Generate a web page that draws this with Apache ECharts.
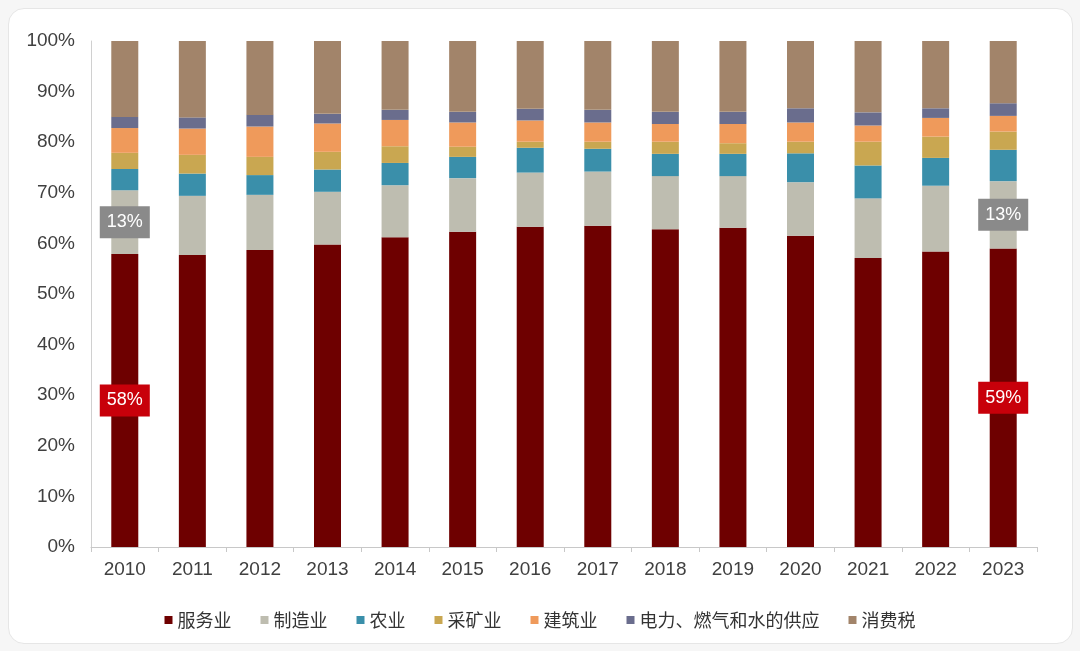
<!DOCTYPE html>
<html>
<head>
<meta charset="utf-8">
<script src="https://cdn.jsdelivr.net/npm/echarts@6/dist/echarts.min.js"></script>
<style>
  html, body { margin: 0; padding: 0; background: #f6f6f6; }
  #card { position: absolute; left: 8px; top: 8px; width: 1063px; height: 634px;
          background: #fff; border: 1px solid #e6e6e6; border-radius: 16px; }
  #main { position: absolute; left: 0; top: 0; width: 1080px; height: 651px; }
</style>
</head>
<body>
<div id="card"></div>
<div id="main"></div>
<script>
var years = ['2010', '2011', '2012', '2013', '2014', '2015', '2016', '2017', '2018', '2019', '2020', '2021', '2022', '2023'];
var yTicks = ['0%', '10%', '20%', '30%', '40%', '50%', '60%', '70%', '80%', '90%', '100%'];

var services      = [57.9, 57.7, 58.7, 59.8, 61.2, 62.3, 63.3, 63.5, 62.8, 63.1, 61.5, 57.1, 58.4, 59.0];
var manufacturing = [12.6, 11.7, 10.9, 10.4, 10.3, 10.6, 10.7, 10.7, 10.5, 10.2, 10.6, 11.8, 13.0, 13.3];
var agriculture   = [4.2, 4.4, 3.9, 4.4, 4.4, 4.2, 4.9, 4.5, 4.4, 4.4, 5.7, 6.5, 5.5, 6.2];
var mining        = [3.2, 3.7, 3.6, 3.5, 3.3, 2.0, 1.2, 1.4, 2.4, 2.1, 2.3, 4.7, 4.2, 3.6];
var construction  = [4.9, 5.2, 6.0, 5.6, 5.2, 4.8, 4.2, 3.8, 3.5, 3.8, 3.8, 3.2, 3.7, 3.1];
var utilities     = [2.2, 2.2, 2.3, 1.9, 2.0, 2.1, 2.3, 2.5, 2.4, 2.4, 2.8, 2.6, 1.9, 2.5];
var consumTax     = [15.0, 15.1, 14.6, 14.4, 13.6, 14.0, 13.4, 13.6, 14.0, 14.0, 13.3, 14.1, 13.3, 12.3];

// which bars carry a boxed label
var labelIdx = [0, 13];

var myChart = echarts.init(document.getElementById('main'));

function withLabels(arr, bg) {
    return arr.map(function(v, i) {
        if (labelIdx.indexOf(i) < 0) return v;
        return {
            value: v,
            label: {
                show: true,
                position: 'inside',
                formatter: Math.round(v) + '%',
                color: '#fff',
                fontSize: 18,
                fontFamily: 'Liberation Sans',
                backgroundColor: bg,
                padding: [8, 7, 6, 7]
            }
        };
    });
}

var seriesDefs = [
    ['服务业', withLabels(services, '#c8000a'), '#6e0000'],
    ['制造业', withLabels(manufacturing, '#8a8a8a'), '#bebdb0'],
    ['农业', agriculture, '#3a8faa'],
    ['采矿业', mining, '#c9a751'],
    ['建筑业', construction, '#ef9a5b'],
    ['电力、燃气和水的供应', utilities, '#6a6d8d'],
    ['消费税', consumTax, '#a2846a']
];

var series = seriesDefs.map(function(s) {
    return {
        name: s[0],
        type: 'bar',
        stack: 'total',
        barWidth: 27,
        data: s[1],
        itemStyle: { color: s[2] },
        emphasis: { disabled: true }
    };
});

var option = {
    animation: false,
    textStyle: { fontFamily: 'Liberation Sans' },
    grid: { left: 91, right: 43, top: 41, bottom: 104 },
    legend: {
        bottom: 17,
        left: 'center',
        itemWidth: 8,
        itemHeight: 8,
        itemGap: 29,
        icon: 'rect',
        textStyle: { fontSize: 18, color: '#333', fontFamily: 'Noto Sans CJK SC' },
        data: seriesDefs.map(function(s) { return s[0]; })
    },
    xAxis: {
        type: 'category',
        data: years,
        axisLine: { lineStyle: { color: '#c8c8c8' } },
        axisTick: { show: true, length: 5, lineStyle: { color: '#c8c8c8' } },
        axisLabel: { fontSize: 19, color: '#404040', margin: 13 }
    },
    yAxis: {
        type: 'value',
        min: 0,
        max: 100,
        interval: 10,
        splitLine: { show: false },
        axisLine: { show: true, lineStyle: { color: '#d0d0d0' } },
        axisTick: { show: false },
        axisLabel: {
            fontSize: 19,
            color: '#404040',
            margin: 16,
            formatter: function(v) { return yTicks[Math.round(v / 10)]; }
        }
    },
    series: series
};

myChart.setOption(option);
</script>
</body>
</html>
